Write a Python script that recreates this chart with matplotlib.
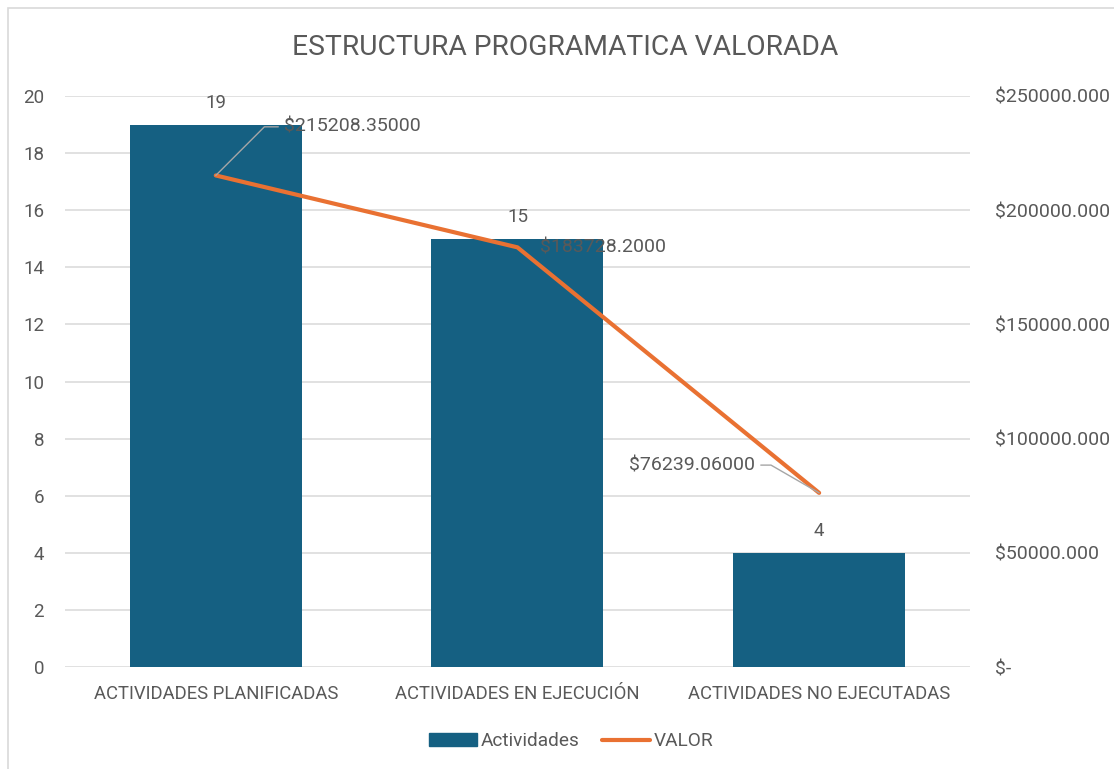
import matplotlib.pyplot as plt
import matplotlib.patches as mpatches
from matplotlib.lines import Line2D

plt.rcParams['font.family'] = ['Roboto', 'DejaVu Sans']

categorias = ['ACTIVIDADES PLANIFICADAS', 'ACTIVIDADES EN EJECUCIÓN', 'ACTIVIDADES NO EJECUTADAS']
actividades = [19, 15, 4]
valor = [215208.35, 183728.20, 76239.06]
etiquetas_valor = ['$215208.35000', '$183728.2000', '$76239.06000']
ticks_izq = [0, 2, 4, 6, 8, 10, 12, 14, 16, 18, 20]
ticks_der = [0, 50000, 100000, 150000, 200000, 250000]

azul = '#156082'
naranja = '#E97132'
gris_txt = '#595959'
gris_grid = '#D9D9D9'

fig = plt.figure(figsize=(11.14, 7.69), dpi=100)
# borde del grafico (recortado a la derecha y abajo)
fig.patches.append(mpatches.Rectangle((8 / 1114, -0.05), 1.2, 1 - 8 / 769 + 0.05,
                                      transform=fig.transFigure, fill=False,
                                      edgecolor='#D9D9D9', lw=1.2))

ax = fig.add_axes([0.0583, 0.1326, 0.8124, 0.7426])
x = range(len(categorias))
ax.bar(x, actividades, width=0.57, color=azul, zorder=2)
ax.set_xlim(-0.5, 2.5)
ax.set_ylim(0, 20)
ax.set_yticks(ticks_izq)
ax.yaxis.grid(True, color=gris_grid, lw=1.1, zorder=0)
ax.set_axisbelow(True)
for s in ax.spines.values():
    s.set_visible(False)
ax.tick_params(axis='both', length=0, labelcolor=gris_txt)
ax.tick_params(axis='y', pad=15, labelsize=13.5)
ax.tick_params(axis='x', pad=13, labelsize=13.3)
ax.set_xticks(list(x))
ax.set_xticklabels(categorias)

for i, v in enumerate(actividades):
    ax.annotate(str(v), (i, v), xytext=(0, 9), textcoords='offset points',
                ha='center', va='bottom', fontsize=13.5, color=gris_txt)

ax2 = ax.twinx()
ax2.plot(list(x), valor, color=naranja, lw=3, solid_capstyle='round', zorder=3)
ax2.set_ylim(0, 250000)
ax2.set_yticks(ticks_der)
ax2.set_yticklabels(['$-' if t == 0 else '$%.3f' % t for t in ticks_der])
for s in ax2.spines.values():
    s.set_visible(False)
ax2.tick_params(axis='y', length=0, labelsize=14, labelcolor=gris_txt, pad=18)

# etiquetas de valor
ax2.annotate(etiquetas_valor[0], (0, valor[0]), xytext=(49, 35), textcoords='offset points',
             ha='left', va='center', fontsize=14, color=gris_txt,
             arrowprops=dict(arrowstyle='-', color='#A6A6A6', lw=1, relpos=(0, 0.5),
                             shrinkA=2, shrinkB=0,
                             connectionstyle='angle,angleA=0,angleB=45,rad=0'))
ax2.annotate(etiquetas_valor[1], (1, valor[1]), xytext=(16, 0), textcoords='offset points',
             ha='left', va='center', fontsize=14, color=gris_txt)
ax2.annotate(etiquetas_valor[2], (2, valor[2]), xytext=(-46, 20), textcoords='offset points',
             ha='right', va='center', fontsize=14, color=gris_txt,
             arrowprops=dict(arrowstyle='-', color='#A6A6A6', lw=1, relpos=(1, 0.5),
                             shrinkA=2, shrinkB=0,
                             connectionstyle='angle,angleA=0,angleB=-30,rad=0'))

fig.text(0.507, 0.938, 'ESTRUCTURA PROGRAMATICA VALORADA', ha='center', va='center',
         fontsize=20.3, color=gris_txt)

handles = [mpatches.Patch(color=azul, label='Actividades'),
           Line2D([0], [0], color=naranja, lw=3, solid_capstyle='round', label='VALOR')]
fig.legend(handles=handles, loc='center', bbox_to_anchor=(0.513, 0.036), ncol=2,
           frameon=False, fontsize=13.7, labelcolor=gris_txt, handlelength=2.5,
           handletextpad=0.2, columnspacing=1.2, handleheight=0.65)

fig.savefig('out.png', dpi=100)
